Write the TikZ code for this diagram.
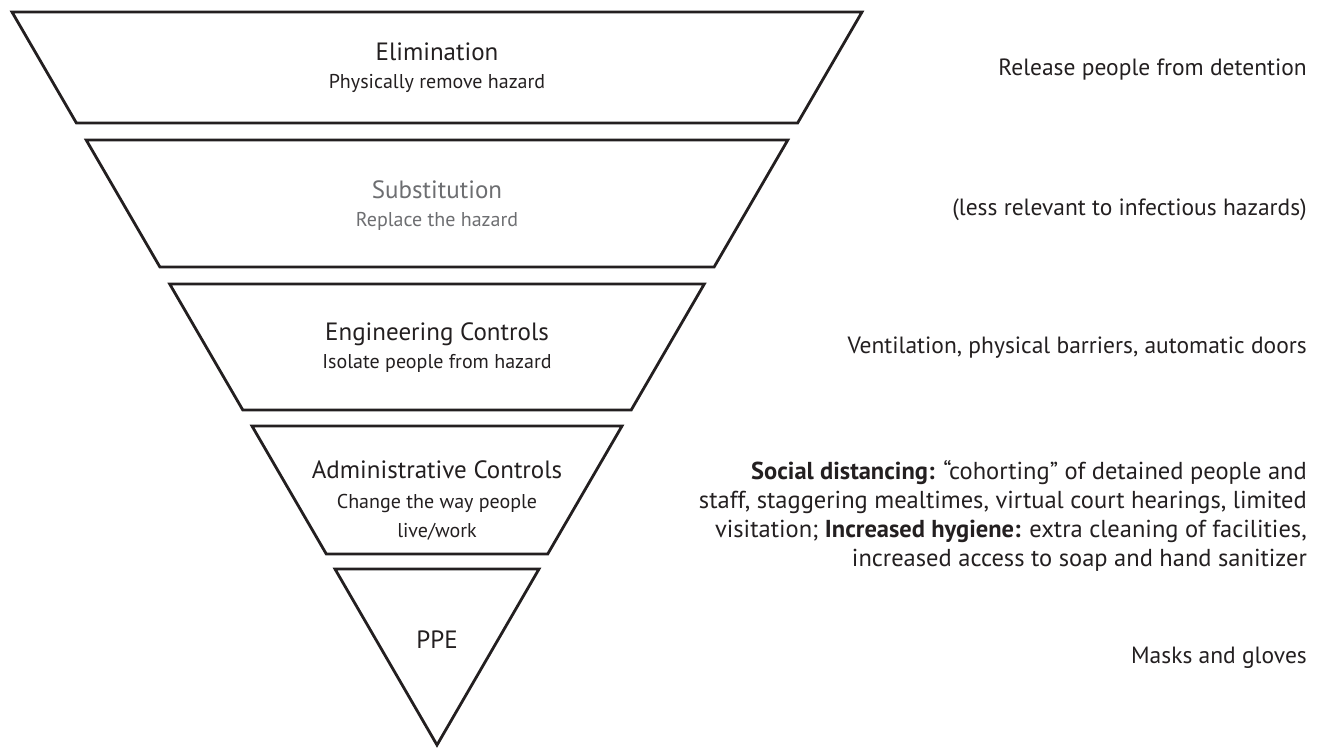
\documentclass[tikz,border=0pt]{standalone}
\usepackage{fontspec}
\setmainfont{PT Sans}
\usepackage{xcolor}
\usepackage{tikz}
\usetikzlibrary{positioning}

\definecolor{ink}{HTML}{231F20}
\definecolor{muted}{HTML}{6D6E71}

\begin{document}
\begin{tikzpicture}[
    x=1pt, y=-1pt,
    level/.style={draw=ink, line width=2.8pt, line join=miter},
    title/.style={anchor=base, inner sep=0pt, text=ink, font=\fontsize{25}{28}\selectfont},
    sub/.style={anchor=base, inner sep=0pt, text=ink, align=center, font=\fontsize{20}{29}\selectfont},
    note/.style={anchor=base east, inner sep=0pt, text=ink, align=right, font=\fontsize{23.5}{29}\selectfont}
]
    \useasboundingbox (0,0) rectangle (1322,748);

    \draw[level] (12,12) -- (862,12) -- (797.6,123) -- (76.4,123) -- cycle;
    \draw[level] (86.2,140) -- (787.8,140) -- (714.1,267) -- (159.9,267) -- cycle;
    \draw[level] (169.7,284) -- (704.3,284) -- (631.2,410) -- (242.8,410) -- cycle;
    \draw[level] (252,426) -- (622,426) -- (547.7,554) -- (326.3,554) -- cycle;
    \draw[level] (335,569) -- (539,569) -- (437,745) -- cycle;

    \node[title] (elim) at (437,60) {Elimination};
    \node[sub] (elimsub) at (437,88) {Physically remove hazard};
    \node[title, text=muted] (subst) at (437,198) {Substitution};
    \node[sub, text=muted] (substsub) at (437,226) {Replace the hazard};
    \node[title] (eng) at (437,340) {Engineering Controls};
    \node[sub] (engsub) at (437,368) {Isolate people from hazard};
    \node[title] (admin) at (437,478) {Administrative Controls};
    \node[sub] (adminsub) at (437,537) {Change the way people\\live/work};
    \node[title] (ppe) at (437,648) {PPE};

    \node[note] (elimnote) at (1307,75) {Release people from detention};
    \node[note] (substnote) at (1307,215) {(less relevant to infectious hazards)};
    \node[note] (engnote) at (1307,353) {Ventilation, physical barriers, automatic doors};
    \node[note, font=\fontsize{24.5}{29}\selectfont] (adminnote) at (1307,566) {\textbf{Social distancing:} “cohorting” of detained people and\\
        staff, staggering mealtimes, virtual court hearings, limited\\
        visitation; \textbf{Increased hygiene:} extra cleaning of facilities,\\
        increased access to soap and hand sanitizer};
    \node[note] (ppenote) at (1307,663) {Masks and gloves};
\end{tikzpicture}
\end{document}
